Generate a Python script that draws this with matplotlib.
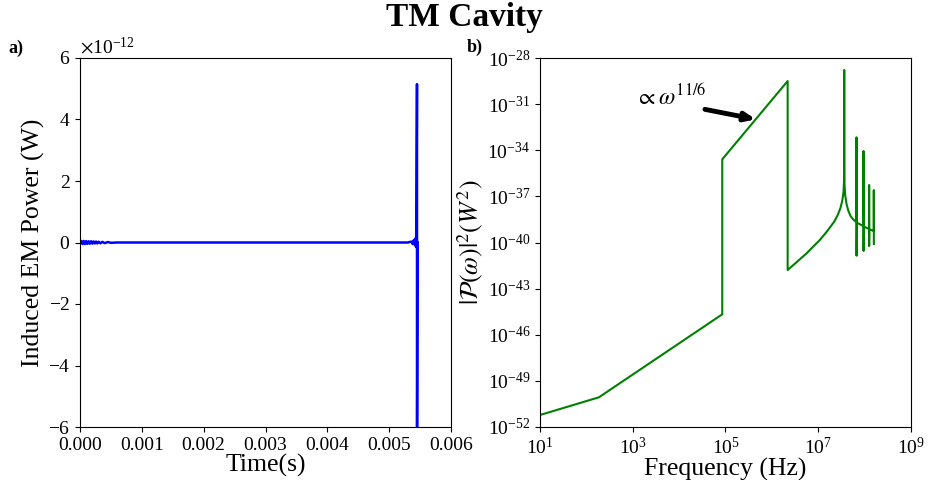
import numpy as np
from matplotlib import pyplot as plt
from matplotlib.ticker import FixedLocator, NullLocator, LogFormatterSciNotation, ScalarFormatter

plt.rcParams['font.family'] = ['Liberation Serif', 'DejaVu Serif']
plt.rcParams['mathtext.fontset'] = 'stix'

# panel a: induced power vs time (W)
time_s = [0.0, 0.00002, 0.00004, 0.00006, 0.00008, 0.0001, 0.00012, 0.00014,
          0.00016, 0.00018, 0.0002, 0.00022, 0.00024, 0.00026, 0.00028, 0.0003,
          0.00033, 0.00036, 0.0004, 0.00045, 0.0005, 0.0006, 0.001, 0.002,
          0.003, 0.004, 0.005, 0.0053, 0.00536, 0.00538, 0.0054, 0.00542,
          0.00543, 0.00544, 0.00545, 0.00545, 0.00546]
power_w = [0.0, 0.05, -0.05, 0.05, -0.05, 0.045, -0.045, 0.04,
           -0.04, 0.04, -0.035, 0.035, -0.03, 0.03, -0.03, 0.025,
           -0.025, 0.02, -0.02, 0.015, -0.01, 0.0, 0.0, 0.0,
           0.0, 0.0, 0.0, 0.0, 0.03, -0.05, 0.08, -0.1,
           0.15, -0.15, 5.15, -8.0, 0.0]
power_w = [p * 1e-12 for p in power_w]

# panel b: |P(w)|^2 spectrum, log10 values
log_freq = [1.0, 2.27, 4.93, 4.93, 6.34, 6.34, 6.45, 6.60, 6.75, 6.88,
            7.03, 7.15, 7.25, 7.35, 7.42, 7.48, 7.52, 7.545, 7.556, 7.558,
            7.56, 7.562, 7.566, 7.58, 7.61, 7.65, 7.70, 7.76, 7.825, 7.825,
            7.826, 7.83, 7.90, 7.976, 7.976, 7.977, 7.98, 8.04, 8.097, 8.097,
            8.098, 8.10, 8.15, 8.198, 8.198, 8.199]
log_psd = [-51.22, -50.07, -44.67, -34.59, -29.50, -41.79, -41.50, -41.10, -40.70, -40.30,
           -39.85, -39.42, -39.03, -38.62, -38.21, -37.75, -37.25, -36.7, -36.0, -35.3,
           -28.78, -35.3, -36.2, -36.9, -37.5, -37.95, -38.30, -38.52, -38.67, -33.16,
           -40.86, -38.70, -38.82, -38.93, -34.05, -40.55, -38.95, -39.05, -39.12, -36.26,
           -40.23, -39.15, -39.2, -39.25, -36.59, -40.10]
freq = [10**v for v in log_freq]
psd = [10**v for v in log_psd]

fig = plt.figure(figsize=(9.29, 4.8), dpi=100)
ax1 = fig.add_axes([80/929, 53/480, 371/929, 369/480])
ax2 = fig.add_axes([540/929, 53/480, 371/929, 369/480])

ax1.plot(time_s, power_w, color='blue', lw=1.8)
ax1.set_xlim(0, 0.006)
ax1.set_ylim(-6e-12, 6e-12)
ax1.yaxis.set_major_formatter(ScalarFormatter(useMathText=True))
ax1.set_xlabel('Time(s)', fontsize=18.5, labelpad=0)
ax1.set_ylabel('Induced EM Power (W)', fontsize=18.5, labelpad=2)
ax1.tick_params(labelsize=14)
ax1.yaxis.get_offset_text().set_fontsize(14)

ax2.plot(freq, psd, color='green', lw=1.5)
ax2.set_xscale('log')
ax2.set_yscale('log')
ax2.set_xlim(1e1, 1e9)
ax2.set_ylim(1e-52, 1e-28)
ax2.xaxis.set_major_locator(FixedLocator([10.0**k for k in range(1, 10, 2)]))
ax2.yaxis.set_major_locator(FixedLocator([10.0**k for k in range(-52, -27, 3)]))
ax2.xaxis.set_major_formatter(LogFormatterSciNotation())
ax2.yaxis.set_major_formatter(LogFormatterSciNotation())
ax2.xaxis.set_minor_locator(NullLocator())
ax2.yaxis.set_minor_locator(NullLocator())
ax2.set_xlabel('Frequency (Hz)', fontsize=18.5, labelpad=0)
ax2.set_ylabel(r'$|\mathcal{P}(\omega)|^2(W^2)$', fontsize=18.5, labelpad=2)
ax2.tick_params(labelsize=14)

ax2.annotate('', xy=(10**5.655, 10**-31.99), xytext=(10**4.556, 10**-31.34),
             arrowprops=dict(arrowstyle='-|>,head_length=0.6,head_width=0.25',
                             lw=3.5, color='black', shrinkA=0, shrinkB=0))
ax2.text(10**3.05, 10**-31.05, r'$\propto\omega^{11/6}$', fontsize=17)

fig.suptitle('TM Cavity', fontsize=24, fontweight='bold', y=0.995)
fig.text(8/929, 1 - 48/480, 'a)', fontsize=13, fontweight='bold', va='center')
fig.text(467/929, 1 - 47/480, 'b)', fontsize=13, fontweight='bold', va='center')

plt.savefig('out.png', dpi=100)
